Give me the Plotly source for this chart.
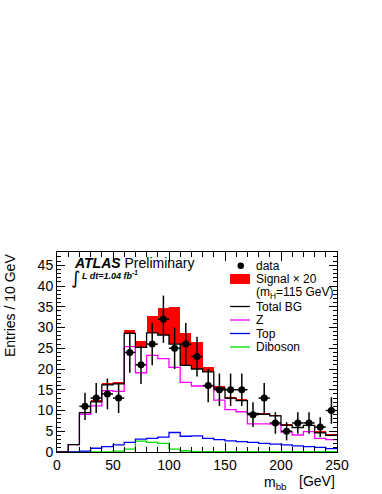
"""ATLAS-style m_bb distribution recreated with Plotly."""

import plotly.graph_objects as go

# ------------------------------------------------------------------ #
# Data (10 GeV bins from 0 to 250 GeV)
# ------------------------------------------------------------------ #
bin_edges = [0, 10, 20, 30, 40, 50, 60, 70, 80, 90, 100, 110, 120, 130,
             140, 150, 160, 170, 180, 190, 200, 210, 220, 230, 240, 250]
bin_centers = [5, 15, 25, 35, 45, 55, 65, 75, 85, 95, 105, 115, 125, 135,
               145, 155, 165, 175, 185, 195, 205, 215, 225, 235, 245]

total_bg = [0, 1.8, 9.5, 12.1, 16.2, 16.4, 28.6, 25.2, 28.7, 28.2, 26.0, 20.9,
            20.0, 19.3, 15.4, 13.0, 12.4, 9.3, 9.1, 8.7, 6.5, 5.9, 6.4, 4.6, 4.0]
signal_x20 = [0, 0, 0.1, 0.2, 0.3, 0.4, 0.9, 1.6, 4.0, 6.4, 9.0, 7.9,
              6.4, 1.2, 0.4, 0.2, 0.2, 0.1, 0.1, 0.1, 0.1, 0.1, 0.1, 0.4, 0.1]
z_bg = [0, 1.8, 9.1, 11.1, 14.8, 14.6, 25.4, 19.1, 23.3, 22.5, 20.4, 16.8,
        15.9, 15.9, 12.5, 10.2, 9.7, 6.8, 6.8, 6.7, 4.8, 4.1, 4.9, 3.3, 3.0]
top_bg = [0, 0, 0.2, 0.9, 1.3, 1.7, 2.3, 3.1, 3.3, 3.6, 4.7, 3.8,
          3.9, 3.3, 3.0, 2.7, 2.5, 2.3, 2.1, 1.9, 1.7, 1.5, 1.3, 1.1, 0.8]
diboson_bg = [0, 0, 0, 0, 0, 0.2, 0.7, 2.6, 2.3, 2.1, 0.7, 0.3,
              0.1, 0.1, 0.1, 0.1, 0.1, 0.1, 0.1, 0.1, 0.1, 0.1, 0.1, 0.1, 0.1]

data_x = [25, 35, 45, 55, 65, 75, 85, 95, 105, 115, 125, 135,
          145, 155, 165, 175, 185, 195, 205, 215, 225, 235, 245]
data_y = [11, 13, 14, 13, 24, 21, 26, 32, 25, 26, 23, 16,
          15, 15, 15, 9, 13, 7, 5, 7, 7, 6, 10]
data_err = [3.3, 3.6, 3.7, 3.6, 4.9, 4.6, 5.1, 5.7, 5.0, 5.1, 4.8, 4.0,
            3.9, 3.9, 3.9, 3.0, 3.6, 2.6, 2.2, 2.6, 2.6, 2.4, 3.2]

FONT = "Liberation Sans, Arial, sans-serif"

# Plot-area pixel box (figure is 382 x 494)
L, R, T, B = 57, 337, 252, 452


def fx(px):
    return (px - L) / (R - L)


def fy(py):
    return (B - py) / (B - T)


def step(values):
    return values + [values[-1]]


fig = go.Figure()

# Signal x 20 stacked on top of the total background
fig.add_trace(go.Bar(
    x=bin_centers, y=signal_x20, base=total_bg, width=10,
    marker=dict(color="#ff0000", line=dict(width=0)),
    showlegend=False,
))

# Background histograms as step lines
for vals, col in [(diboson_bg, "#00dd00"), (top_bg, "#0000ff"),
                  (z_bg, "#ff00ff"), (total_bg, "#000000")]:
    fig.add_trace(go.Scatter(
        x=bin_edges, y=step(vals), mode="lines",
        line=dict(color=col, width=1.3, shape="hv"),
        showlegend=False, hoverinfo="skip",
    ))

# Data points
fig.add_trace(go.Scatter(
    x=data_x, y=data_y, mode="markers",
    marker=dict(color="black", size=7),
    error_y=dict(type="data", array=data_err, color="black", thickness=1.5, width=0),
    error_x=dict(type="constant", value=5, color="black", thickness=1.5, width=0),
    showlegend=False,
))

# ------------------------------------------------------------------ #
# Legend (drawn by hand, ROOT style)
# ------------------------------------------------------------------ #
shapes = []
annotations = []

shapes.append(dict(type="circle", xref="paper", yref="paper",
                   x0=fx(237.5), x1=fx(244), y0=fy(269), y1=fy(262.5),
                   fillcolor="black", line=dict(color="black", width=0)))
shapes.append(dict(type="rect", xref="paper", yref="paper",
                   x0=fx(230), x1=fx(250), y0=fy(284), y1=fy(274),
                   fillcolor="#ff0000", line=dict(width=0)))
for py, col in [(306.5, "black"), (320, "#ff00ff"), (333.5, "#0000ff"), (347, "#00dd00")]:
    shapes.append(dict(type="line", xref="paper", yref="paper",
                       x0=fx(230), x1=fx(250), y0=fy(py), y1=fy(py),
                       line=dict(color=col, width=1.3)))

legend_text = [
    (265.5, "data"),
    (278.5, "Signal \u00d7 20"),
    (292.5, "(m<sub>H</sub>=115 GeV)"),
    (306.5, "Total BG"),
    (320, "Z"),
    (333.5, "Top"),
    (347, "Diboson"),
]
for py, txt in legend_text:
    annotations.append(dict(xref="paper", yref="paper", x=fx(254), y=fy(py),
                            xanchor="left", yanchor="middle", showarrow=False,
                            text=txt, font=dict(family=FONT, size=12, color="black")))

# ATLAS label
annotations.append(dict(xref="paper", yref="paper", x=fx(72), y=fy(262.5),
                        xanchor="left", yanchor="middle", showarrow=False,
                        text="<b><i>ATLAS</i></b> Preliminary",
                        font=dict(family=FONT, size=14, color="black")))
annotations.append(dict(xref="paper", yref="paper", x=fx(69), y=fy(277),
                        xanchor="left", yanchor="middle", showarrow=False,
                        text="\u222b",
                        font=dict(family="DejaVu Sans", size=18, color="black")))
annotations.append(dict(xref="paper", yref="paper", x=fx(80), y=fy(274.5),
                        xanchor="left", yanchor="middle", showarrow=False,
                        text="<b><i>L dt=1.04 fb<sup>-1</sup></i></b>",
                        font=dict(family=FONT, size=9, color="black")))

# Axis titles
annotations.append(dict(xref="paper", yref="paper", x=fx(10), y=fy(306),
                        xanchor="center", yanchor="middle", showarrow=False,
                        textangle=-90, text="Entries / 10 GeV",
                        font=dict(family=FONT, size=14, color="black")))
annotations.append(dict(xref="paper", yref="paper", x=fx(262), y=fy(483),
                        xanchor="left", yanchor="middle", showarrow=False,
                        text="m<sub>bb</sub>",
                        font=dict(family=FONT, size=14, color="black")))
annotations.append(dict(xref="paper", yref="paper", x=fx(337), y=fy(481),
                        xanchor="right", yanchor="middle", showarrow=False,
                        text="[GeV]",
                        font=dict(family=FONT, size=14, color="black")))

# ------------------------------------------------------------------ #
# Layout
# ------------------------------------------------------------------ #
axis_common = dict(
    showgrid=False, zeroline=False, showline=True, linecolor="black",
    linewidth=1, mirror="allticks", ticks="inside", tickcolor="black",
    tickfont=dict(family=FONT, size=14, color="black"),
)

fig.update_layout(
    width=382, height=494,
    margin=dict(l=L, r=382 - R, t=T, b=494 - B),
    paper_bgcolor="white", plot_bgcolor="white",
    barmode="overlay", bargap=0,
    shapes=shapes, annotations=annotations,
    xaxis=dict(range=[0, 250], tickvals=[0, 50, 100, 150, 200, 250],
               ticklen=9, tickwidth=1,
               minor=dict(ticks="inside", dtick=10, ticklen=5, tickcolor="black"),
               **axis_common),
    yaxis=dict(range=[0, 48.2], tickvals=[0, 5, 10, 15, 20, 25, 30, 35, 40, 45],
               ticklen=8, tickwidth=1,
               minor=dict(ticks="inside", dtick=1, ticklen=4, tickcolor="black"),
               **axis_common),
)

# The page body has a default 8px margin; remove it so the figure fills the window
fig.write_html("out.html",
               config={"displayModeBar": False},
               post_script="document.body.style.margin='0px';"
                           "document.body.style.overflow='hidden';")
